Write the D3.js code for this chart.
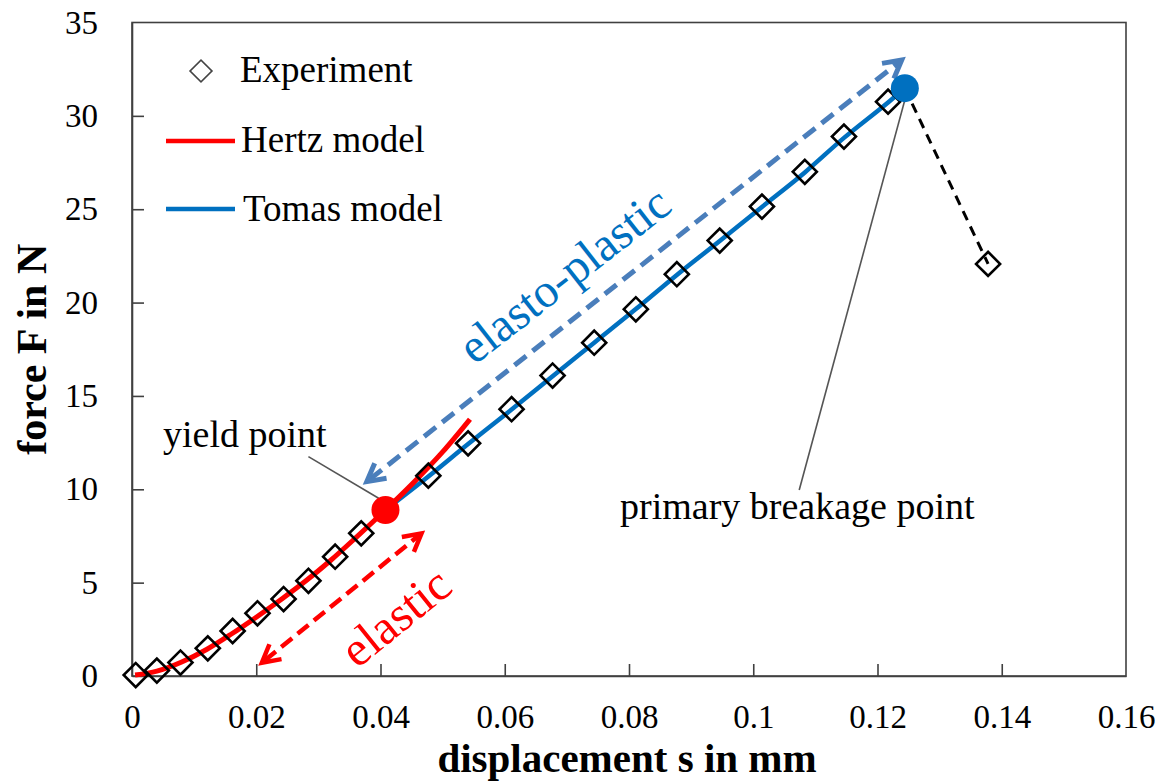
<!DOCTYPE html>
<html>
<head>
<meta charset="utf-8">
<script src="https://cdn.jsdelivr.net/npm/d3@7"></script>
<style>
  html, body { margin: 0; padding: 0; background: #fff; }
  svg text { font-family: "Liberation Serif", "Times New Roman", Times, serif !important; }
</style>
</head>
<body>
<svg id="chart" width="1163" height="782"></svg>
<script>
// Measured force–displacement curve (s in mm, F in N)
const expS = [0.0006, 0.0040, 0.0078, 0.0122, 0.0162, 0.0202, 0.0244, 0.0284, 0.0327, 0.0369,
              0.0477, 0.0541, 0.0611, 0.0677, 0.0744, 0.0811, 0.0877, 0.0946, 0.1014, 0.1083,
              0.1146, 0.1217, 0.1378];
const expF = [0.05, 0.29, 0.72, 1.48, 2.41, 3.36, 4.12, 5.10, 6.39, 7.64,
              10.73, 12.46, 14.29, 16.09, 17.85, 19.64, 21.52, 23.32, 25.14, 27.00,
              28.89, 30.76, 22.07];

// Hertz (elastic) model curve
const hertzS = [0.0005, 0.004, 0.008, 0.012, 0.016, 0.020, 0.024, 0.028, 0.032, 0.036, 0.0408, 0.045, 0.050, 0.0544];
const hertzF = [0.05, 0.26, 0.75, 1.42, 2.25, 3.15, 4.10, 5.10, 6.20, 7.40, 8.89, 10.25, 12.00, 13.75];

// Tomas (elasto-plastic) model curve
const tomasS = [0.0408, 0.0477, 0.0541, 0.0611, 0.0677, 0.0744, 0.0811, 0.0877, 0.0946, 0.1014, 0.1083, 0.1146, 0.1217, 0.1244];
const tomasF = [8.89, 10.68, 12.42, 14.27, 16.05, 17.85, 19.65, 21.48, 23.30, 25.12, 26.97, 28.82, 30.72, 31.48];

// Characteristic points
const yieldPoint = [0.0408, 8.89];
const breakPoint = [0.1244, 31.48];

// Axis ticks
const xTicks = [0, 0.02, 0.04, 0.06, 0.08, 0.1, 0.12, 0.14, 0.16];
const xTickLabels = ["0", "0.02", "0.04", "0.06", "0.08", "0.1", "0.12", "0.14", "0.16"];
const yTicks = [0, 5, 10, 15, 20, 25, 30, 35];

// Range arrows (data coordinates: start, end)
const elasticArrow = [[0.0209, 0.71], [0.0466, 7.64]];
const plasticArrow = [[0.0378, 10.41], [0.1239, 32.99]];

// Annotation leader lines
const yieldLeader = [[0.0284, 11.75], [0.0397, 9.52]];
const breakLeader = [[0.1244, 30.85], [0.1074, 9.96]];

const SERIF = '"Liberation Serif", "Times New Roman", Times, serif';
const svg = d3.select("#chart").attr("font-family", SERIF);
const plot = { left: 132, right: 1126, top: 22.5, bottom: 676 };

const x = d3.scaleLinear().domain([0, 0.16]).range([plot.left, plot.right]);
const y = d3.scaleLinear().domain([0, 35]).range([plot.bottom, plot.top]);

const BLUE = "#0070C0", RED = "#FF0000", ARROW_BLUE = "#4A7EBB";

// Frame
svg.append("rect")
  .attr("x", plot.left).attr("y", plot.top)
  .attr("width", plot.right - plot.left).attr("height", plot.bottom - plot.top)
  .attr("fill", "none").attr("stroke", "#404040").attr("stroke-width", 1.6);

// Axes with inward ticks
const xAxis = d3.axisBottom(x).tickValues(xTicks).tickSizeInner(-12).tickSizeOuter(0)
  .tickFormat((d, i) => xTickLabels[i]).tickPadding(29);
const gx = svg.append("g").attr("transform", `translate(0,${plot.bottom})`).call(xAxis);
const yAxis = d3.axisLeft(y).tickValues(yTicks).tickSizeInner(-12).tickSizeOuter(0).tickPadding(34);
const gy = svg.append("g").attr("transform", `translate(${plot.left},0)`).call(yAxis);
[gx, gy].forEach(g => {
  g.attr("font-family", SERIF).attr("font-size", 33);
  g.select(".domain").attr("stroke", "#404040").attr("stroke-width", 1.6);
  g.selectAll(".tick line").attr("stroke", "#404040").attr("stroke-width", 1.6);
  g.selectAll(".tick text").attr("fill", "#000");
});
gx.selectAll(".tick line").filter(d => d === 0 || d === 0.16).remove();
gy.selectAll(".tick line").filter(d => d === 0 || d === 35).remove();

// Axis titles
svg.append("text")
  .attr("x", (plot.left + plot.right) / 2 - 2).attr("y", 772)
  .attr("text-anchor", "middle").attr("font-weight", "bold").attr("font-size", 41)
  .text("displacement s in mm");
svg.append("text")
  .attr("transform", `translate(46,${(plot.top + plot.bottom) / 2}) rotate(-90)`)
  .attr("text-anchor", "middle").attr("font-weight", "bold").attr("font-size", 42)
  .text("force F in N");

// Range arrows (dashed, double-headed)
function chevron(tip, from, len, halfAngle) {
  const a = Math.atan2(from[1] - tip[1], from[0] - tip[0]);
  const p1 = [tip[0] + len * Math.cos(a + halfAngle), tip[1] + len * Math.sin(a + halfAngle)];
  const p2 = [tip[0] + len * Math.cos(a - halfAngle), tip[1] + len * Math.sin(a - halfAngle)];
  return `M${p1}L${tip}L${p2}`;
}
function rangeArrow(ends, color, width, dash) {
  const p0 = [x(ends[0][0]), y(ends[0][1])];
  const p1 = [x(ends[1][0]), y(ends[1][1])];
  const g = svg.append("g");
  const dx = p1[0] - p0[0], dy = p1[1] - p0[1], L = Math.hypot(dx, dy);
  const inset = 4;
  g.append("line")
    .attr("x1", p0[0] + dx / L * inset).attr("y1", p0[1] + dy / L * inset)
    .attr("x2", p1[0] - dx / L * inset).attr("y2", p1[1] - dy / L * inset)
    .attr("stroke", color).attr("stroke-width", width).attr("stroke-dasharray", dash);
  [[p0, p1], [p1, p0]].forEach(([tip, from]) => {
    g.append("path").attr("d", chevron(tip, from, 20, 0.5))
      .attr("fill", "none").attr("stroke", color).attr("stroke-width", width)
      .attr("stroke-linejoin", "miter").attr("stroke-linecap", "butt");
  });
}
rangeArrow(plasticArrow, ARROW_BLUE, 5, "15 8");
rangeArrow(elasticArrow, RED, 4.5, "14 7");

// Leader lines
[yieldLeader, breakLeader].forEach(seg => {
  svg.append("line")
    .attr("x1", x(seg[0][0])).attr("y1", y(seg[0][1]))
    .attr("x2", x(seg[1][0])).attr("y2", y(seg[1][1]))
    .attr("stroke", "#555").attr("stroke-width", 1.6);
});

// Post-breakage drop (dashed)
const n = expS.length;
svg.append("line")
  .attr("x1", x(breakPoint[0])).attr("y1", y(breakPoint[1]))
  .attr("x2", x(expS[n - 1])).attr("y2", y(expF[n - 1]))
  .attr("stroke", "#000").attr("stroke-width", 3).attr("stroke-dasharray", "10 7");

// Model curves
const line = d3.line().x(d => x(d[0])).y(d => y(d[1])).curve(d3.curveMonotoneX);
svg.append("path").datum(tomasS.map((s, i) => [s, tomasF[i]]))
  .attr("d", line).attr("fill", "none").attr("stroke", BLUE).attr("stroke-width", 4.5);
svg.append("path").datum(hertzS.map((s, i) => [s, hertzF[i]]))
  .attr("d", line).attr("fill", "none").attr("stroke", RED).attr("stroke-width", 5);

// Experiment markers
const diamond = d3.symbol().type(d3.symbolSquare).size(290);
svg.append("g").selectAll("path").data(expS.map((s, i) => [s, expF[i]])).join("path")
  .attr("d", diamond)
  .attr("transform", d => `translate(${x(d[0])},${y(d[1])}) rotate(45)`)
  .attr("fill", "none").attr("stroke", "#000").attr("stroke-width", 2.6);

// Yield and breakage points
svg.append("circle").attr("cx", x(yieldPoint[0])).attr("cy", y(yieldPoint[1])).attr("r", 14).attr("fill", RED);
svg.append("circle").attr("cx", x(breakPoint[0])).attr("cy", y(breakPoint[1])).attr("r", 14).attr("fill", BLUE);

// Annotations
svg.append("text").attr("x", 163).attr("y", 447).attr("font-size", 38).text("yield point");
svg.append("text").attr("x", 620).attr("y", 519).attr("font-size", 38).text("primary breakage point");

const elasticMid = [x(0.0441), y(2.47)];
svg.append("text")
  .attr("transform", `translate(${elasticMid}) rotate(-39)`)
  .attr("text-anchor", "middle").attr("font-size", 49).attr("fill", RED)
  .text("elastic");
const plasticMid = [x(0.0712), y(20.8)];
svg.append("text")
  .attr("transform", `translate(${plasticMid}) rotate(-38)`)
  .attr("text-anchor", "middle").attr("font-size", 48).attr("fill", BLUE)
  .text("elasto-plastic");

// Legend
const legend = svg.append("g");
legend.append("path").attr("d", d3.symbol().type(d3.symbolSquare).size(240))
  .attr("transform", "translate(201,71) rotate(45)")
  .attr("fill", "none").attr("stroke", "#444").attr("stroke-width", 1.6);
legend.append("text").attr("x", 240).attr("y", 82).attr("font-size", 37).text("Experiment");
legend.append("line").attr("x1", 166).attr("x2", 235).attr("y1", 141).attr("y2", 141)
  .attr("stroke", RED).attr("stroke-width", 4.5);
legend.append("text").attr("x", 241).attr("y", 152).attr("font-size", 37).text("Hertz model");
legend.append("line").attr("x1", 166).attr("x2", 235).attr("y1", 209).attr("y2", 209)
  .attr("stroke", BLUE).attr("stroke-width", 4.5);
legend.append("text").attr("x", 243).attr("y", 221).attr("font-size", 37).text("Tomas model");
</script>
</body>
</html>
